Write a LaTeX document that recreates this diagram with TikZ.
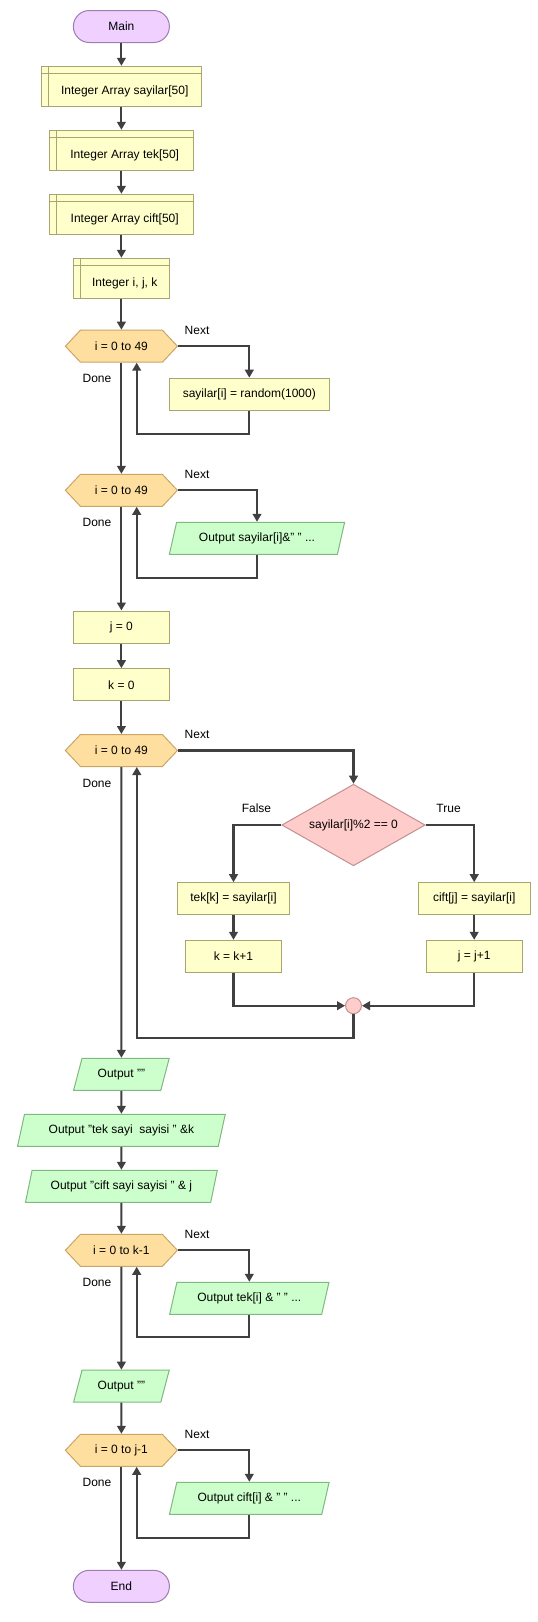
\documentclass[tikz,border=0pt]{standalone}
\usepackage{fontspec}
\setmainfont{Liberation Sans}
\usetikzlibrary{arrows.meta,shapes.geometric,calc}
\definecolor{edgec}{HTML}{404040}
\definecolor{termfill}{HTML}{EFD0FF}
\definecolor{termdraw}{HTML}{A07CB0}
\definecolor{procfill}{HTML}{FFFFCC}
\definecolor{procdraw}{HTML}{A8A670}
\definecolor{loopfill}{HTML}{FFDFA0}
\definecolor{loopdraw}{HTML}{C8A666}
\definecolor{outfill}{HTML}{CCFFCC}
\definecolor{outdraw}{HTML}{80B880}
\definecolor{iffill}{HTML}{FFCCCC}
\definecolor{ifdraw}{HTML}{C49090}
\newcommand\hexloop[4]{%
  \filldraw[fill=loopfill,draw=loopdraw,line width=0.75pt]
    (#2-56,#3) -- (#2-41,#3-16) -- (#2+41,#3-16) -- (#2+56,#3) -- (#2+41,#3+16) -- (#2-41,#3+16) -- cycle;
  \node[looptext] (#1) at (#2,#3) {#4};
}
\newcommand\declhead[1]{%
  \draw[draw=procdraw,line width=0.75pt] ($(#1.north west)+(0,8)$) -- ($(#1.north east)+(0,8)$);
  \draw[draw=procdraw,line width=0.75pt] ($(#1.north west)+(8,0)$) -- ($(#1.south west)+(8,0)$);
}
\newcommand\decltext[1]{\hspace*{5pt}\raisebox{-6.5pt}[0pt][0pt]{#1}}
\tikzset{
  base/.style={font=\fontsize{9pt}{11pt}\selectfont, inner sep=0pt, line width=0.75pt, text=black},
  term/.style={base, rectangle, rounded corners=11.9pt, fill=termfill, draw=termdraw, minimum width=72pt, minimum height=24pt},
  decl/.style={base, rectangle, fill=procfill, draw=procdraw, minimum height=30pt},
  proc/.style={base, rectangle, fill=procfill, draw=procdraw, minimum height=24pt},
  outp/.style={base, trapezium, trapezium left angle=65, trapezium right angle=115, trapezium stretches=true, fill=outfill, draw=outdraw, minimum height=24pt},
  looptext/.style={base, rectangle, minimum width=84pt, minimum height=24pt},
  ifd/.style={base, diamond, aspect=1.75, fill=iffill, draw=ifdraw, minimum width=107.5pt, minimum height=61.2pt},
  joinc/.style={base, circle, fill=iffill, draw=ifdraw, minimum size=12pt},
  lbl/.style={base},
  flow/.style={draw=edgec, line width=1.6pt, -{Triangle[length=6pt,width=6.5pt]}},
}
\begin{document}
\begin{tikzpicture}[x=0.75pt,y=-0.75pt]
\fill[white] (0,0) rectangle (537,1622);
\useasboundingbox (0,0) rectangle (537,1622);
% main column
\node[term] (main) at (121.4,26.5) {Main};
\node[decl, minimum width=120.3pt] (d1) at (121.4,86.3) {\decltext{Integer Array sayilar[50]}};
\declhead{d1}
\node[decl, minimum width=108pt] (d2) at (121.4,150.3) {\decltext{Integer Array tek[50]}};
\declhead{d2}
\node[decl, minimum width=108pt] (d3) at (121.4,214.3) {\decltext{Integer Array cift[50]}};
\declhead{d3}
\node[decl, minimum width=72pt] (d4) at (121.4,278.3) {\decltext{Integer i, j, k}};
\declhead{d4}
% loop 1
\hexloop{l1}{121.4}{346.2}{i = 0 to 49}
\node[proc, minimum width=120pt] (a1) at (249.3,394.2) {sayilar[i] = random(1000)};
\coordinate (bk1) at (136.7,434);
% loop 2
\hexloop{l2}{121.4}{490.3}{i = 0 to 49}
\node[outp, minimum width=132pt] (o1) at (257,538.3) {Output sayilar[i]\&" " ...};
\coordinate (bk2) at (136.7,577.7);
% assignments
\node[proc, minimum width=72pt] (j0) at (121.4,627) {j = 0};
\node[proc, minimum width=72pt] (k0) at (121.4,684.7) {k = 0};
% loop 3
\hexloop{l3}{121.4}{750.5}{i = 0 to 49}
\node[ifd] (dia) at (353.5,825) {sayilar[i]\%2 == 0};
\node[proc, minimum width=84pt] (tk) at (233.5,898.7) {tek[k] = sayilar[i]};
\node[proc, minimum width=72pt] (kk) at (233.5,956.3) {k = k+1};
\node[proc, minimum width=84pt] (cj) at (474.2,898.7) {cift[j] = sayilar[i]};
\node[proc, minimum width=72pt] (jj) at (474.2,956.3) {j = j+1};
\node[joinc] (jn) at (353.5,1005.7) {};
\coordinate (bk3) at (136.8,1037.9);
% outputs
\node[outp, minimum width=72pt] (o2) at (121.4,1074.3) {Output ""};
\node[outp, minimum width=156pt] (o3) at (121.4,1130.3) {Output "tek sayi\ \ sayisi " \&k};
\node[outp, minimum width=144pt] (o4) at (121.4,1186.3) {Output "cift sayi sayisi " \& j};
% loop 4
\hexloop{l4}{121.4}{1250.3}{i = 0 to k-1}
\node[outp, minimum width=120pt] (o5) at (249.3,1298.3) {Output tek[i] \& " " ...};
\coordinate (bk4) at (136.7,1337);
\node[outp, minimum width=72pt] (o6) at (121.4,1386.2) {Output ""};
% loop 5
\hexloop{l5}{121.4}{1450.3}{i = 0 to j-1}
\node[outp, minimum width=120pt] (o7) at (249.3,1498.3) {Output cift[i] \& " " ...};
\coordinate (bk5) at (136.7,1538);
\node[term] (end) at (121.4,1586.3) {End};
% labels
\node[lbl] (n1) at (197,330.2) {Next};
\node[lbl] (dn1) at (97,378.8) {Done};
\node[lbl] (n2) at (197,474.3) {Next};
\node[lbl] (dn2) at (97,522.9) {Done};
\node[lbl] (n3) at (197,734.5) {Next};
\node[lbl] (dn3) at (97,783.3) {Done};
\node[lbl] (fl) at (256.5,808.2) {False};
\node[lbl] (tr) at (448.6,808.2) {True};
\node[lbl] (n4) at (197,1234.3) {Next};
\node[lbl] (dn4) at (97,1282.9) {Done};
\node[lbl] (n5) at (197,1434.3) {Next};
\node[lbl] (dn5) at (97,1482.9) {Done};
% connectors
\draw[flow] (main) -- (d1);
\draw[flow] (d1) -- (d2);
\draw[flow] (d2) -- (d3);
\draw[flow] (d3) -- (d4);
\draw[flow] (d4) -- (l1);
\draw[flow] (l1.east) -| (a1.north);
\draw[flow] (a1.south) |- (bk1) -- (bk1 |- l1.south);
\draw[flow] (l1) -- (l2);
\draw[flow] (l2.east) -| (o1.north);
\draw[flow] (o1.south) |- (bk2) -- (bk2 |- l2.south);
\draw[flow] (l2) -- (j0);
\draw[flow] (j0) -- (k0);
\draw[flow] (k0) -- (l3);
\draw[flow] (l3.east) -| (dia.north);
\draw[flow] (dia.west) -| (tk.north);
\draw[flow] (dia.east) -| (cj.north);
\draw[flow] (tk) -- (kk);
\draw[flow] (cj) -- (jj);
\draw[flow] (kk.south) |- (jn.west);
\draw[flow] (jj.south) |- (jn.east);
\draw[flow] (jn.south) |- (bk3) -- (bk3 |- l3.south);
\draw[flow] (l3) -- (o2);
\draw[flow] (o2) -- (o3);
\draw[flow] (o3) -- (o4);
\draw[flow] (o4) -- (l4);
\draw[flow] (l4.east) -| (o5.north);
\draw[flow] (o5.south) |- (bk4) -- (bk4 |- l4.south);
\draw[flow] (l4) -- (o6);
\draw[flow] (o6) -- (l5);
\draw[flow] (l5.east) -| (o7.north);
\draw[flow] (o7.south) |- (bk5) -- (bk5 |- l5.south);
\draw[flow] (l5) -- (end);
\end{tikzpicture}
\end{document}
